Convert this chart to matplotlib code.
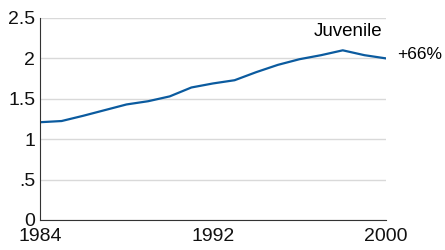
import matplotlib.pyplot as plt

years = list(range(1984, 2001))
values = [1.21, 1.225, 1.29, 1.36, 1.43, 1.47, 1.53, 1.64, 1.69, 1.73,
          1.83, 1.92, 1.99, 2.04, 2.10, 2.04, 2.00]
y_ticks = [0, 0.5, 1, 1.5, 2, 2.5]
y_labels = ['0', '.5', '1', '1.5', '2', '2.5']
x_ticks = [1984, 1992, 2000]

plt.rcParams['font.family'] = ['Liberation Sans', 'DejaVu Sans']

fig = plt.figure(figsize=(4.45, 2.5), dpi=100)
ax = fig.add_axes([40 / 445, 30 / 250, 346 / 445, 202 / 250])

ax.plot(years, values, color='#0b5b9f', linewidth=1.6)

ax.set_xlim(1984, 2000)
ax.set_ylim(0, 2.5)
ax.set_yticks(y_ticks)
ax.set_yticklabels(y_labels)
ax.set_xticks(x_ticks)
ax.tick_params(length=0, labelsize=14, colors='#111111')
ax.tick_params(axis='y', pad=3.5)
ax.tick_params(axis='x', pad=6)
ax.grid(axis='y', color='#d9d9d9', linewidth=1)
ax.set_axisbelow(True)

for side in ['top', 'right']:
    ax.spines[side].set_visible(False)
ax.spines['left'].set_color('#333333')
ax.spines['bottom'].set_color('#333333')

ax.text(1999.85, 2.33, 'Juvenile', ha='right', va='center', fontsize=13.5)
ax.text(2000.5, values[-1] + 0.05, '+66%', ha='left', va='center', fontsize=12.5,
        clip_on=False)

fig.savefig('out.png', dpi=100)
